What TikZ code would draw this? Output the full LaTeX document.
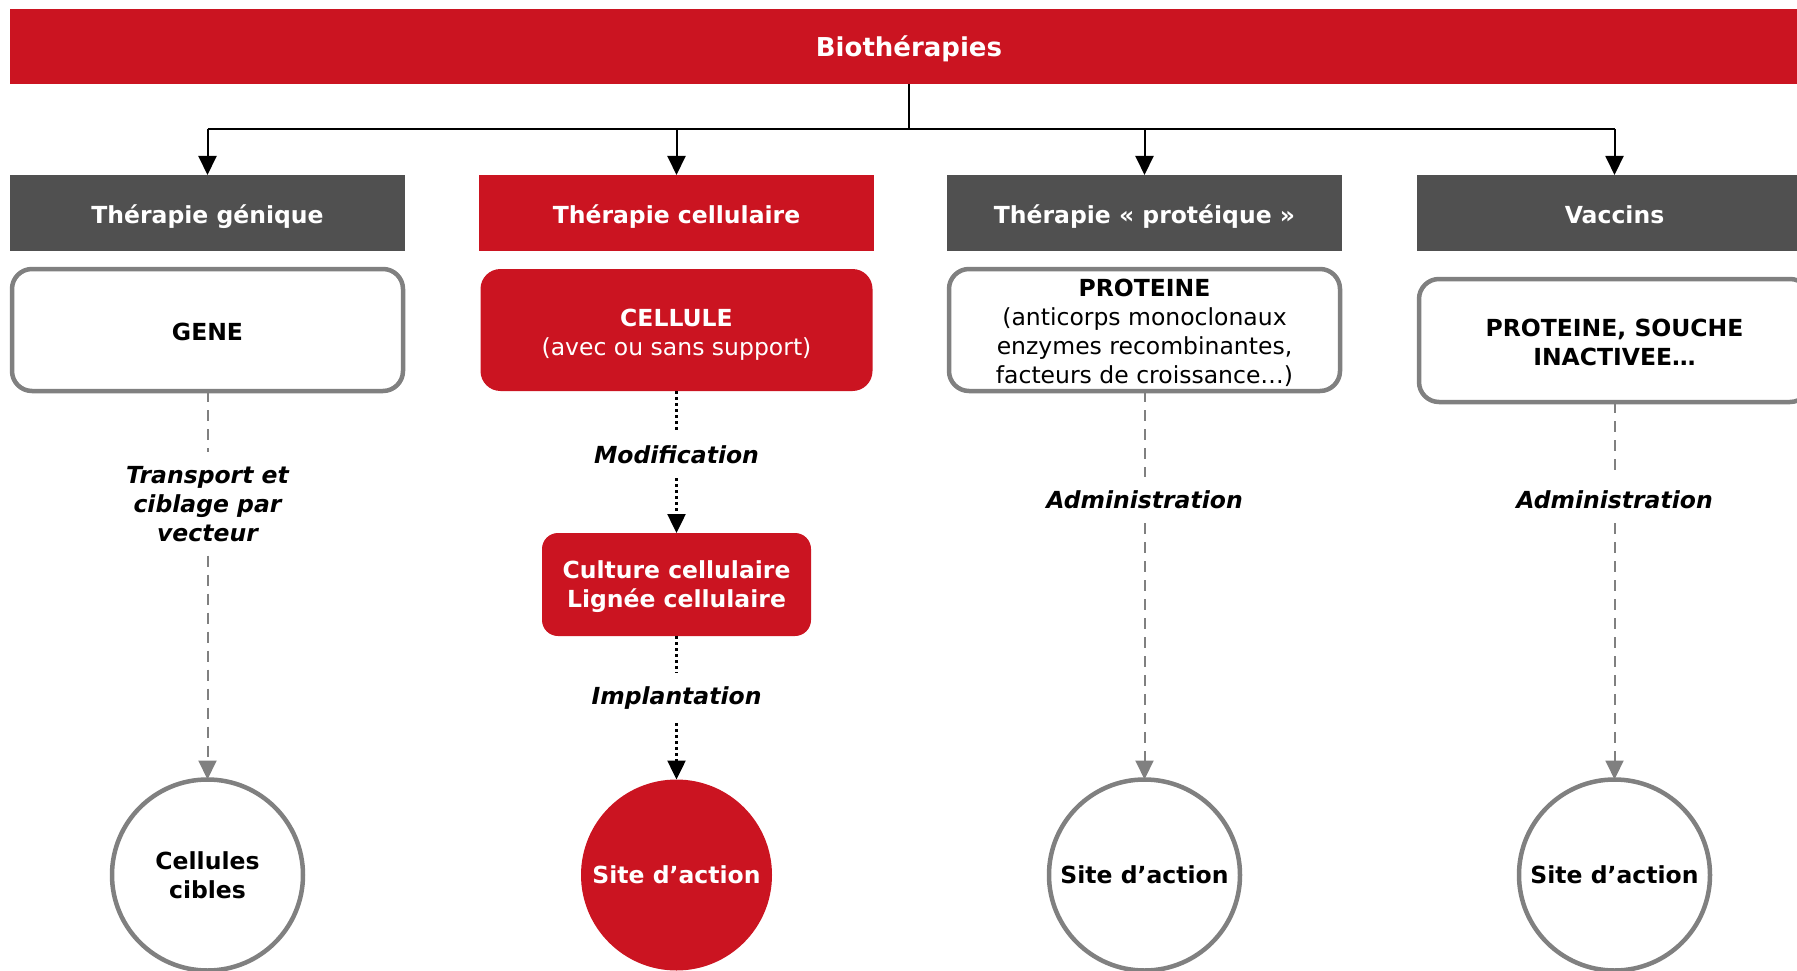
\documentclass[tikz,border=0pt]{standalone}
\usepackage{fontspec}
\setmainfont{DejaVu Sans}
\usetikzlibrary{arrows.meta}
\definecolor{bioRed}{HTML}{CB1421}
\definecolor{bioDark}{HTML}{505050}
\definecolor{bioGray}{HTML}{808080}
\newcommand\txtlift[1]{\rule{0pt}{#1}}
\begin{document}
\begin{tikzpicture}[x=1pt,y=-1pt,line cap=butt,
    txt/.style={font=\fontsize{23.5}{29}\selectfont,align=center,inner sep=0pt,outer sep=0pt},
    oneline/.style={text height=20pt,text depth=0pt},
    head/.style={txt,oneline,font=\fontsize{23.5}{29}\selectfont\bfseries,text=white,minimum width=395pt,minimum height=76pt},
    whitebox/.style={txt,draw=bioGray,line width=4.5pt,fill=white,rounded corners=20pt,minimum width=391pt,minimum height=122pt},
    redbox/.style={txt,fill=bioRed,text=white,rounded corners=20pt},
    ring/.style={txt,circle,font=\fontsize{23.5}{29}\selectfont\bfseries,draw=bioGray,line width=4.5pt,minimum size=191pt},
    lbl/.style={txt,font=\fontsize{23.5}{29}\selectfont\bfseries\itshape,inner ysep=14pt},
    tip/.style={-{Triangle[length=19pt,width=18pt]}},
    graylink/.style={bioGray,line width=2pt,dash pattern=on 11pt off 8pt},
    dotlink/.style={black,line width=2.5pt,dash pattern=on 3pt off 3pt}]
  \useasboundingbox (0,0) rectangle (1797,971);

  % bandeau
  \node[head,fill=bioRed,font=\fontsize{26}{30}\selectfont\bfseries,minimum width=1798pt,minimum height=75pt] (bio) at (909,46.5) {Biothérapies};
  \coordinate (hub) at (909,129);

  % les quatre familles
  \node[head,fill=bioDark] (hdgene) at (207.5,213) {Thérapie génique};
  \node[head,fill=bioRed]  (hdcell) at (676.5,213) {Thérapie cellulaire};
  \node[head,fill=bioDark] (hdprot) at (1144.5,213) {Thérapie « protéique »};
  \node[head,fill=bioDark] (hdvacc) at (1614.5,213) {Vaccins};

  \draw[line width=2pt] (bio.south) -- (hub);
  \draw[line width=2pt] (hdgene.north |- hub) -- (hdvacc.north |- hub);
  \foreach \hd in {hdgene,hdcell,hdprot,hdvacc}
    \draw[line width=2pt,tip] (\hd.north |- hub) -- (\hd);

  % produits
  \node[whitebox,oneline] (gene) at (207.5,330) {\textbf{GENE}};
  \node[redbox,minimum width=392pt,minimum height=122pt] (cell) at (676.5,330) {\txtlift{26pt}\textbf{CELLULE}\\(avec ou sans support)};
  \node[whitebox] (prot) at (1144.5,330) {\txtlift{24pt}\textbf{PROTEINE}\\(anticorps monoclonaux\\enzymes recombinantes,\\facteurs de croissance…)};
  \node[whitebox,minimum height=123pt] (vacc) at (1614.5,340.5) {\txtlift{21pt}\textbf{PROTEINE, SOUCHE}\\\textbf{INACTIVEE…}};
  \node[redbox,font=\fontsize{23.5}{29}\selectfont\bfseries,rounded corners=16pt,minimum width=269pt,minimum height=103pt] (cult) at (676.5,584.5) {\txtlift{22.5pt}Culture cellulaire\\Lignée cellulaire};

  % etapes
  \node[lbl] (transp) at (207.5,504) {Transport et\\ciblage par\\vecteur};
  \node[lbl] (modif) at (676.5,455) {Modification};
  \node[lbl] (implant) at (676.5,698) {Implantation};
  \node[lbl] (admprot) at (1144.5,500) {Administration};
  \node[lbl] (admvacc) at (1614.5,500) {Administration};

  % cibles
  \node[ring] (cible) at (207.5,875) {Cellules\\cibles};
  \node[ring,draw=none,fill=bioRed,text=white] (site) at (676.5,875) {Site d’action};
  \node[ring] (siteprot) at (1144.5,875) {Site d’action};
  \node[ring] (sitevacc) at (1614.5,875) {Site d’action};

  \draw[graylink] (gene) -- (transp);
  \draw[graylink,tip] (transp) -- (cible);
  \draw[dotlink] (cell) -- (modif);
  \draw[dotlink,tip] (modif) -- (cult);
  \draw[dotlink] (cult) -- (implant);
  \draw[dotlink,tip] (implant) -- (site);
  \draw[graylink] (prot) -- (admprot);
  \draw[graylink,tip] (admprot) -- (siteprot);
  \draw[graylink] (vacc) -- (admvacc);
  \draw[graylink,tip] (admvacc) -- (sitevacc);
\end{tikzpicture}
\end{document}
